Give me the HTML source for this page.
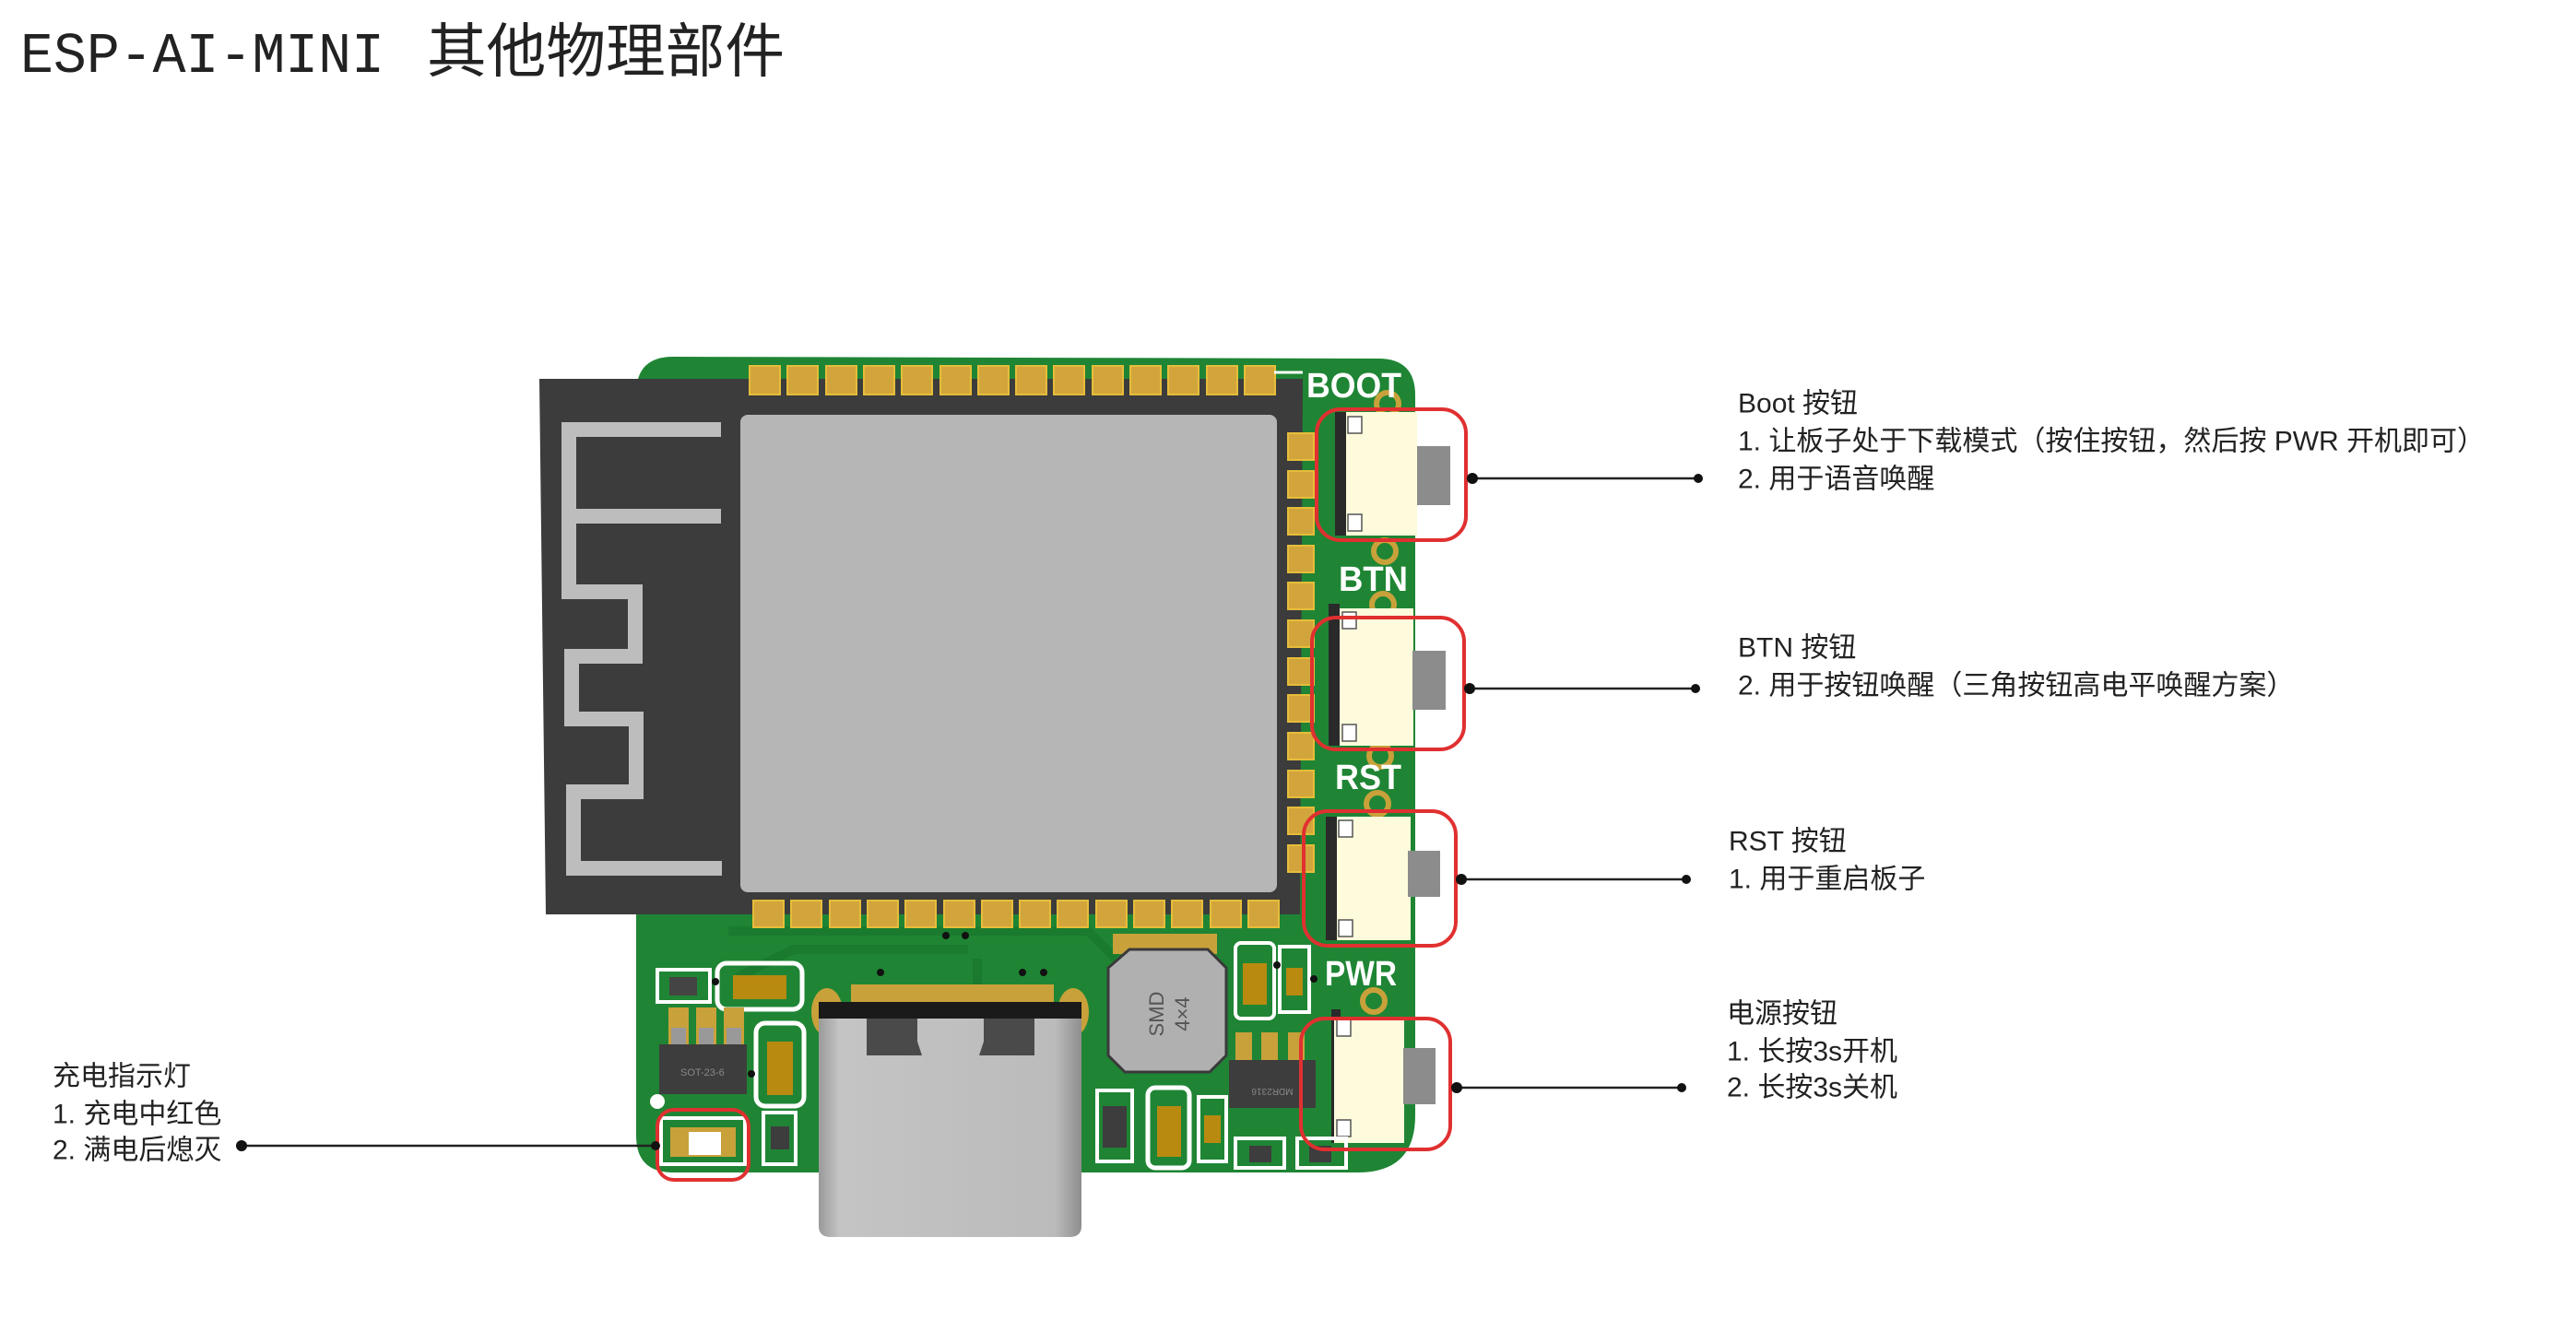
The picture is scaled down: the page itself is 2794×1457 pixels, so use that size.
<!DOCTYPE html>
<html><head><meta charset="utf-8"><style>
html,body{margin:0;padding:0;background:#fff;}
svg{display:block}
.t{font-family:"Liberation Sans","Noto Sans CJK SC",sans-serif;font-size:30px;fill:#222;}
</style></head><body>
<svg width="2794" height="1457" viewBox="0 0 2794 1457" xmlns="http://www.w3.org/2000/svg">
<rect width="2794" height="1457" fill="#fff"/>
<!-- title -->
<text x="22" y="78" font-family="Liberation Mono, monospace" font-size="62" fill="#222" textLength="395" lengthAdjust="spacingAndGlyphs">ESP-AI-MINI</text>
<text x="463" y="78" font-family="Liberation Sans, Noto Sans CJK SC, sans-serif" font-size="64" fill="#222" textLength="388" lengthAdjust="spacingAndGlyphs">其他物理部件</text>

<!-- board -->
<path d="M730,387 L1495,389 Q1535,389 1535,429 L1535,1210 Q1535,1272 1473,1272 L730,1272 Q690,1272 690,1232 L690,427 Q690,387 730,387 Z" fill="#1f8534"/>
<!-- traces -->
<path d="M790,1010 L1180,1010 L1210,1040 M800,1060 L860,1030 L1050,1030 M1060,1040 L1060,1090" stroke="#1a7a2e" stroke-width="10" fill="none"/>
<!-- module -->
<polygon points="585,411 1413,411 1410,992 592,992" fill="#3c3c3c"/>
<rect x="803" y="450" width="582" height="518" rx="8" fill="#b6b6b6"/>
<!-- antenna -->
<path d="M782,466 L617,466 L617,642 L689,642 L689,712 L620,712 L620,780 L690,780 L690,859 L622,859 L622,942 L783,942 M617,560 L782,560" stroke="#bdbdbd" stroke-width="16" fill="none"/>
<!-- pads -->
<g fill="#d2a53c" stroke="#e6bd3a" stroke-width="2">
<rect x="813" y="397" width="33" height="31"/><rect x="854" y="397" width="33" height="31"/><rect x="896" y="397" width="33" height="31"/><rect x="937" y="397" width="33" height="31"/><rect x="978" y="397" width="33" height="31"/><rect x="1020" y="397" width="33" height="31"/><rect x="1061" y="397" width="33" height="31"/><rect x="1102" y="397" width="33" height="31"/><rect x="1143" y="397" width="33" height="31"/><rect x="1185" y="397" width="33" height="31"/><rect x="1226" y="397" width="33" height="31"/><rect x="1267" y="397" width="33" height="31"/><rect x="1309" y="397" width="33" height="31"/><rect x="1350" y="397" width="33" height="31"/>
<rect x="817" y="977" width="33" height="29"/><rect x="858" y="977" width="33" height="29"/><rect x="900" y="977" width="33" height="29"/><rect x="941" y="977" width="33" height="29"/><rect x="982" y="977" width="33" height="29"/><rect x="1024" y="977" width="33" height="29"/><rect x="1065" y="977" width="33" height="29"/><rect x="1106" y="977" width="33" height="29"/><rect x="1147" y="977" width="33" height="29"/><rect x="1189" y="977" width="33" height="29"/><rect x="1230" y="977" width="33" height="29"/><rect x="1271" y="977" width="33" height="29"/><rect x="1313" y="977" width="33" height="29"/><rect x="1354" y="977" width="33" height="29"/>
<rect x="1397" y="470" width="28" height="29"/><rect x="1397" y="511" width="28" height="29"/><rect x="1397" y="551" width="28" height="29"/><rect x="1397" y="592" width="28" height="29"/><rect x="1397" y="632" width="28" height="29"/><rect x="1397" y="673" width="28" height="29"/><rect x="1397" y="714" width="28" height="29"/><rect x="1397" y="754" width="28" height="29"/><rect x="1397" y="795" width="28" height="29"/><rect x="1397" y="836" width="28" height="29"/><rect x="1397" y="876" width="28" height="29"/><rect x="1397" y="917" width="28" height="29"/>
</g>
<path d="M1382,404 L1413,404" stroke="#fff" stroke-width="3"/>
<!-- gold rings (behind labels) -->
<g fill="#1f8534" stroke="#c9a13a" stroke-width="6">
<circle cx="1505" cy="438" r="12"/><circle cx="1502" cy="598" r="12"/><circle cx="1500" cy="656" r="12"/><circle cx="1497" cy="820" r="12"/><circle cx="1494" cy="872" r="12"/><circle cx="1490" cy="1086" r="12"/>
</g>
<!-- silkscreen labels -->
<g font-family="Liberation Sans, sans-serif" font-weight="bold" font-size="38" fill="#fff">
<text x="1417" y="431" textLength="103" lengthAdjust="spacingAndGlyphs">BOOT</text>
<text x="1452" y="641" textLength="75" lengthAdjust="spacingAndGlyphs">BTN</text>
<text x="1448" y="856" textLength="72" lengthAdjust="spacingAndGlyphs">RST</text>
<text x="1437" y="1069" textLength="78" lengthAdjust="spacingAndGlyphs">PWR</text>
</g>
<!-- switches -->
<g>
<rect x="1448" y="447" width="12" height="134" fill="#2a2a2a"/>
<rect x="1460" y="447" width="77" height="134" fill="#fdfbdc"/>
<rect x="1537" y="484" width="36" height="64" fill="#8c8c8c"/>
<rect x="1441" y="655" width="12" height="154" fill="#2a2a2a"/>
<rect x="1453" y="660" width="80" height="149" fill="#fdfbdc"/>
<rect x="1532" y="706" width="36" height="64" fill="#8c8c8c"/>
<rect x="1438" y="886" width="12" height="134" fill="#2a2a2a"/>
<rect x="1450" y="886" width="80" height="134" fill="#fdfbdc"/>
<rect x="1527" y="923" width="35" height="50" fill="#8c8c8c"/>
<rect x="1444" y="1095" width="10" height="145" fill="#2a2a2a"/>
<rect x="1447" y="1103" width="76" height="137" fill="#fdfbdc"/>
<rect x="1522" y="1137" width="35" height="61" fill="#8c8c8c"/>
<g fill="#fff" stroke="#555" stroke-width="1.5">
<rect x="1462" y="452" width="15" height="18"/><rect x="1462" y="558" width="15" height="18"/>
<rect x="1456" y="664" width="15" height="18"/><rect x="1456" y="786" width="15" height="18"/>
<rect x="1452" y="890" width="15" height="18"/><rect x="1452" y="998" width="15" height="18"/>
<rect x="1450" y="1106" width="15" height="18"/><rect x="1450" y="1215" width="15" height="18"/>
</g>
</g>
<!-- bottom-left components -->
<rect x="713" y="1052" width="57" height="35" fill="none" stroke="#fff" stroke-width="4"/>
<rect x="726" y="1060" width="30" height="20" fill="#444"/>
<rect x="778" y="1045" width="92" height="50" rx="10" fill="none" stroke="#fff" stroke-width="5"/>
<rect x="795" y="1058" width="58" height="26" fill="#b88a10"/>
<g fill="#c9a13a"><rect x="725" y="1093" width="22" height="42"/><rect x="755" y="1093" width="22" height="42"/><rect x="785" y="1093" width="22" height="42"/></g>
<g fill="#999"><rect x="728" y="1115" width="16" height="18"/><rect x="758" y="1115" width="16" height="18"/><rect x="788" y="1115" width="16" height="18"/></g>
<rect x="715" y="1133" width="95" height="54" fill="#3d3d3d"/>
<text x="738" y="1167" font-family="Liberation Sans, sans-serif" font-size="11" fill="#888">SOT-23-6</text>
<rect x="820" y="1110" width="52" height="90" rx="10" fill="none" stroke="#fff" stroke-width="5"/>
<rect x="832" y="1130" width="28" height="58" fill="#b88a10"/>
<rect x="717" y="1213" width="91" height="50" fill="none" stroke="#fff" stroke-width="4"/>
<rect x="727" y="1223" width="71" height="32" fill="#c9a13a"/>
<rect x="747" y="1228" width="35" height="25" fill="#fff"/>
<rect x="828" y="1207" width="35" height="56" fill="none" stroke="#fff" stroke-width="4"/>
<rect x="836" y="1222" width="20" height="25" fill="#3d3d3d"/>
<circle cx="713" cy="1195" r="8" fill="#fff"/>
<!-- USB-C -->
<ellipse cx="897" cy="1098" rx="17" ry="26" fill="#c9a13a"/>
<ellipse cx="1164" cy="1098" rx="17" ry="26" fill="#c9a13a"/>
<g fill="#c9a13a"><rect x="923" y="1068" width="220" height="22"/></g>
<defs><linearGradient id="usb" x1="0" x2="1"><stop offset="0" stop-color="#9a9a9a"/><stop offset="0.08" stop-color="#c4c4c4"/><stop offset="0.9" stop-color="#bbbbbb"/><stop offset="1" stop-color="#8e8e8e"/></linearGradient></defs>
<path d="M888,1100 L1173,1100 L1173,1330 Q1173,1342 1160,1342 L901,1342 Q888,1342 888,1330 Z" fill="url(#usb)"/>
<rect x="888" y="1087" width="285" height="18" fill="#1a1a1a"/>
<path d="M940,1105 L995,1105 L995,1130 L1000,1145 L940,1145 Z" fill="#4a4a4a"/>
<path d="M1122,1105 L1067,1105 L1067,1130 L1062,1145 L1122,1145 Z" fill="#4a4a4a"/>
<!-- inductor -->
<rect x="1207" y="1013" width="113" height="22" fill="#c9a13a"/>
<path d="M1225,1030 L1310,1030 L1330,1050 L1330,1145 L1312,1163 L1220,1163 L1202,1145 L1202,1050 Z" fill="#b0b0b0" stroke="#3a3a3a" stroke-width="3"/>
<text transform="translate(1262,1100) rotate(-90)" text-anchor="middle" font-family="Liberation Sans, sans-serif" font-size="22" fill="#555">SMD</text>
<text transform="translate(1290,1100) rotate(-90)" text-anchor="middle" font-family="Liberation Sans, sans-serif" font-size="22" fill="#555">4×4</text>
<!-- right-bottom components -->
<rect x="1340" y="1023" width="42" height="82" rx="6" fill="none" stroke="#fff" stroke-width="4"/>
<rect x="1348" y="1045" width="26" height="45" fill="#b88a10"/>
<rect x="1388" y="1027" width="32" height="71" fill="none" stroke="#fff" stroke-width="4"/>
<rect x="1395" y="1050" width="18" height="30" fill="#b88a10"/>
<g fill="#c9a13a"><rect x="1340" y="1120" width="18" height="30"/><rect x="1368" y="1120" width="18" height="30"/><rect x="1397" y="1120" width="18" height="30"/></g>
<rect x="1333" y="1150" width="94" height="52" fill="#3d3d3d"/>
<text transform="translate(1380,1181) rotate(180)" text-anchor="middle" font-family="Liberation Sans, sans-serif" font-size="10" fill="#888">MDR2316</text>
<rect x="1190" y="1183" width="38" height="77" fill="none" stroke="#fff" stroke-width="4"/>
<rect x="1196" y="1200" width="26" height="45" fill="#3d3d3d"/>
<rect x="1245" y="1180" width="45" height="87" rx="8" fill="none" stroke="#fff" stroke-width="5"/>
<rect x="1255" y="1200" width="26" height="55" fill="#b88a10"/>
<rect x="1300" y="1190" width="30" height="70" fill="none" stroke="#fff" stroke-width="4"/>
<rect x="1306" y="1210" width="18" height="30" fill="#b88a10"/>
<rect x="1340" y="1235" width="53" height="32" fill="none" stroke="#fff" stroke-width="4"/>
<rect x="1355" y="1243" width="24" height="18" fill="#3d3d3d"/>
<rect x="1407" y="1235" width="53" height="32" fill="none" stroke="#fff" stroke-width="4"/>
<rect x="1420" y="1243" width="24" height="18" fill="#3d3d3d"/>
<!-- vias -->
<g fill="#111"><circle cx="1026" cy="1015" r="4"/><circle cx="1047" cy="1015" r="4"/><circle cx="955" cy="1055" r="4"/><circle cx="1109" cy="1055" r="4"/><circle cx="1132" cy="1055" r="4"/><circle cx="776" cy="1065" r="4"/><circle cx="815" cy="1165" r="4"/><circle cx="1385" cy="1047" r="4"/><circle cx="1425" cy="1062" r="4"/></g>

<!-- red highlight boxes -->
<g fill="none" stroke="#e03030" stroke-width="4">
<rect x="1428" y="444" width="162" height="142" rx="26"/>
<rect x="1423" y="670" width="165" height="143" rx="26"/>
<rect x="1414" y="880" width="165" height="146" rx="26"/>
<rect x="1411" y="1105" width="162" height="142" rx="26"/>
<rect x="713" y="1204" width="99" height="76" rx="18"/>
</g>

<!-- leader lines -->
<g stroke="#222" stroke-width="2.5">
<line x1="1595" y1="519" x2="1842" y2="519"/>
<line x1="1594" y1="747" x2="1839" y2="747"/>
<line x1="1585" y1="954" x2="1829" y2="954"/>
<line x1="1580" y1="1180" x2="1824" y2="1180"/>
<line x1="262" y1="1243" x2="711" y2="1243"/>
</g>
<g fill="#111">
<circle cx="1597" cy="519" r="6"/><circle cx="1842" cy="519" r="5"/>
<circle cx="1594" cy="747" r="6"/><circle cx="1839" cy="747" r="5"/>
<circle cx="1585" cy="954" r="6"/><circle cx="1829" cy="954" r="5"/>
<circle cx="1580" cy="1180" r="6"/><circle cx="1824" cy="1180" r="5"/>
<circle cx="262" cy="1243" r="6"/><circle cx="711" cy="1243" r="5"/>
</g>

<!-- annotation text -->
<g class="t" dominant-baseline="central">
<text x="1885" y="438">Boot 按钮</text>
<text x="1885" y="479">1. 让板子处于下载模式（按住按钮，然后按 PWR 开机即可）</text>
<text x="1885" y="520">2. 用于语音唤醒</text>
<text x="1885" y="703">BTN 按钮</text>
<text x="1885" y="744">2. 用于按钮唤醒（三角按钮高电平唤醒方案）</text>
<text x="1875" y="913">RST 按钮</text>
<text x="1875" y="954">1. 用于重启板子</text>
<text x="1873" y="1100">电源按钮</text>
<text x="1873" y="1141">1. 长按3s开机</text>
<text x="1873" y="1180">2. 长按3s关机</text>
<text x="57" y="1168">充电指示灯</text>
<text x="57" y="1209">1. 充电中红色</text>
<text x="57" y="1248">2. 满电后熄灭</text>
</g>
</svg>
</body></html>
